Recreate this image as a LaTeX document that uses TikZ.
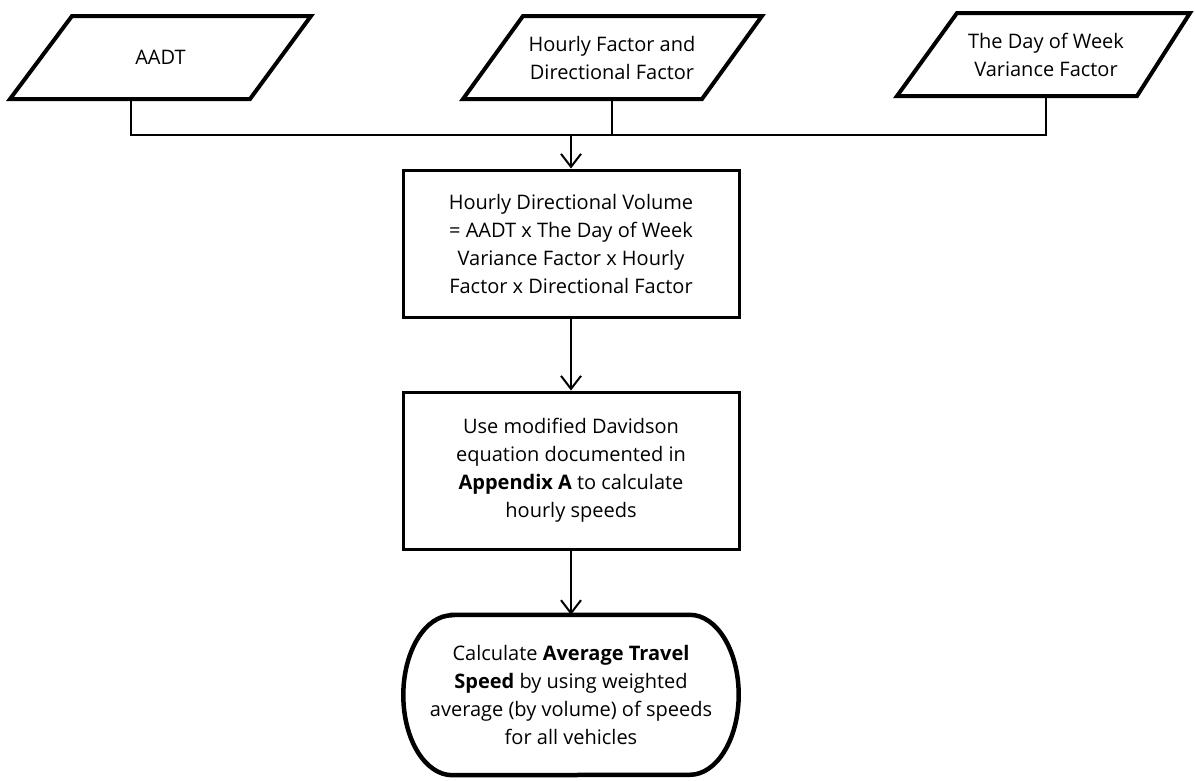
\documentclass[tikz,border=0pt]{standalone}
\usepackage{fontspec}
\setmainfont{Open Sans}
\usetikzlibrary{arrows.meta,calc}
\begin{document}
\begin{tikzpicture}[x=1pt,y=-1pt,
  txt/.style={font=\fontsize{20}{28}\selectfont, align=center, inner sep=0pt},
  shapebox/.style={txt, draw, line width=3pt, minimum width=336pt, rectangle},
  parabd/.style={line width=4pt, line join=miter},
  conn/.style={line width=2pt},
  arr/.style={line width=2pt, -{Straight Barb[length=13pt,width=20pt]}},
  termbd/.style={line width=4.5pt}]
\useasboundingbox (0,0) rectangle (1195,780);
\fill[white] (0,0) rectangle (1195,780);
% input parallelograms
\node[txt] (aadt) at (160.5,57.5) {AADT};
\draw[parabd] (10,99) -- (250,99) -- (311,16) -- (72,16) -- cycle;
\node[txt] (hf) at (612,57.5) {Hourly Factor and\\Directional Factor};
\draw[parabd] (463,99) -- (702,99) -- (762,16) -- (523,16) -- cycle;
\node[txt] (dow) at (1046,54.5) {The Day of Week\\Variance Factor};
\draw[parabd] (897,96) -- (1137,96) -- (1190,13) -- (957,13) -- cycle;
% process boxes
\node[shapebox, minimum height=147pt] (vol) at (571,243.5) {Hourly Directional Volume\\= AADT x The Day of Week\\Variance Factor x Hourly\\Factor x Directional Factor};
\node[shapebox, minimum height=157pt] (spd) at (571,470.5) {Use modified Davidson\\equation documented in\\\textbf{Appendix A} to calculate\\hourly speeds};
% terminal
\node[txt, minimum width=335pt, minimum height=160pt] (avg) at (571,695) {Calculate \textbf{Average Travel}\\\textbf{Speed} by using weighted\\average (by volume) of speeds\\for all vehicles};
\draw[termbd] ($(avg.north west)+(49,0)$) -- ($(avg.north east)+(-49,0)$)
  arc[start angle=-90, end angle=90, x radius=49, y radius=80]
  -- ($(avg.south west)+(49,0)$)
  arc[start angle=90, end angle=270, x radius=49, y radius=80] -- cycle;
% connectors
\coordinate (j) at (571,135);
\coordinate (a1) at (131,99);
\coordinate (d1) at (1046,96);
\coordinate (h1) at (612,99);
\draw[conn] (a1) |- (j) -| (d1);
\draw[conn] (h1) -- (h1 |- j);
\draw[arr] (j) -- (vol.north);
\draw[arr] (vol.south) -- (spd.north);
\draw[arr] (spd.south) -- (avg.north);
\end{tikzpicture}
\end{document}
